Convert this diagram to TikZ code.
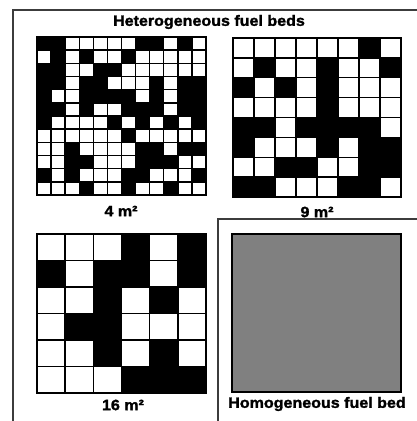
\documentclass[tikz,border=0pt]{standalone}
\usepackage{fontspec}
\setmainfont{Liberation Sans}
\newfontfamily\heavyfont{Liberation Sans}[BoldFeatures={FakeBold=1.6}]
\definecolor{bedgray}{RGB}{128,128,128}
\definecolor{framegray}{RGB}{60,60,60}
\newcommand\fuelgrid[6]{%
  \pgfmathsetmacro\fgw{(#3-#1)/#5}%
  \pgfmathsetmacro\fgh{(#4-#2)/#5}%
  \foreach \rw [count=\ri from 0] in {#6}{%
    \foreach \cv [count=\ci from 0] in \rw{%
      \ifnum\cv=1\relax
        \fill ({#1+\ci*\fgw},{#2+\ri*\fgh}) rectangle ++(\fgw,\fgh);%
      \fi
    }%
  }%
  \foreach \k in {0,...,#5}{%
    \draw[gridline] ({#1+\k*\fgw},#2) -- ({#1+\k*\fgw},#4);
    \draw[gridline] (#1,{#2+\k*\fgh}) -- (#3,{#2+\k*\fgh});
  }%
}
\newcommand\wide[1]{\scalebox{1.07}[1]{#1}}
\begin{document}
\begin{tikzpicture}[x=1pt,y=-1pt,
  lbl/.style={font=\heavyfont\bfseries\fontsize{15}{15}\selectfont, inner sep=0pt},
  gridline/.style={line width=1.4pt, black, line cap=rect},
  frameline/.style={line width=1.5pt, framegray}]
\useasboundingbox (0,0) rectangle (417,421);
\clip (0,0) rectangle (417,421);
\fill[white] (0,0) rectangle (417,421);
% frames
\coordinate (fa) at (13,440);
\coordinate (fb) at (13,10);
\coordinate (fc) at (440,10);
\draw[frameline] (fa) -- (fb) -- (fc);
\coordinate (ha) at (218,440);
\coordinate (hb) at (218,219);
\coordinate (hc) at (440,219);
\draw[frameline] (ha) -- (hb) -- (hc);
% title
\node[lbl] (title) at (209,22) {\wide{Heterogeneous fuel beds}};
% 4 m2 grid
\fuelgrid{37}{37}{206}{195}{12}{%
 {1,1,0,0,0,0,0,1,1,0,1,0},
 {0,1,0,1,0,0,1,0,0,0,0,0},
 {1,1,0,0,1,1,0,0,0,0,0,0},
 {1,1,0,1,1,0,0,0,1,0,1,1},
 {1,0,0,1,1,1,1,0,1,0,1,1},
 {1,1,0,1,0,0,1,1,1,0,1,1},
 {1,0,0,0,0,1,0,1,0,1,0,1},
 {0,0,0,0,0,0,1,0,0,0,0,0},
 {0,0,1,0,0,0,0,1,1,0,1,1},
 {0,0,1,1,0,0,0,1,1,1,0,0},
 {1,0,1,0,0,0,1,1,0,0,0,1},
 {0,0,0,1,0,0,1,0,0,1,0,0}}
\node[lbl] (l4) at (121,211) {\wide{4 m²}};
% 9 m2 grid
\fuelgrid{233}{38}{401}{197}{8}{%
 {0,0,0,0,0,0,1,0},
 {0,1,0,0,1,0,0,1},
 {1,0,1,0,1,0,0,0},
 {0,0,0,0,1,0,0,0},
 {1,1,0,1,1,1,1,0},
 {1,0,0,0,1,0,1,1},
 {0,0,1,1,0,0,1,1},
 {1,1,0,0,0,1,1,0}}
\node[lbl] (l9) at (317,212) {\wide{9 m²}};
% 16 m2 grid
\fuelgrid{37}{234}{206}{393}{6}{%
 {0,0,0,1,0,1},
 {1,0,1,1,0,1},
 {0,0,1,0,1,0},
 {0,1,1,0,0,0},
 {0,0,1,0,1,0},
 {0,0,0,1,1,1}}
\node[lbl] (l16) at (123,405) {\wide{16 m²}};
% homogeneous bed
\filldraw[fill=bedgray, draw=black, line width=1.2pt] (232,234) rectangle (401,392);
\node[lbl] (lh) at (317,404) {\wide{Homogeneous fuel bed}};
% frame line drawn over the 9 m2 label
\draw[frameline] (hb) -- (hc);
\end{tikzpicture}
\end{document}
